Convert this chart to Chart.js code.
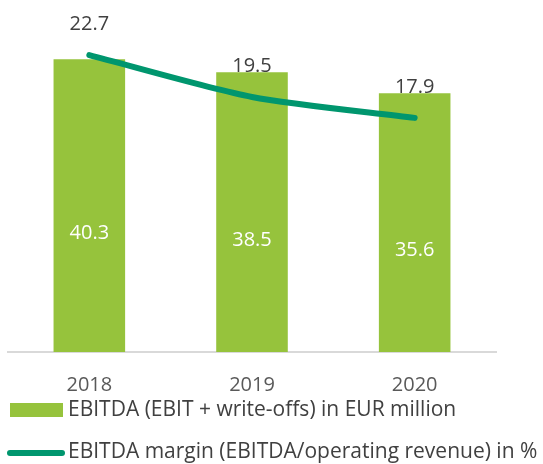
<!DOCTYPE html>
<html>
<head>
<meta charset="utf-8">
<script src="https://cdn.jsdelivr.net/npm/chart.js@4/dist/chart.umd.min.js"></script>
<style>
  html, body { margin: 0; padding: 0; background: #fff; }
  #wrap { width: 543px; height: 464px; }
</style>
</head>
<body>
<div id="wrap"><canvas id="ebitdaChart"></canvas></div>
<script>
var years = ['2018', '2019', '2020'];
var ebitda = [40.3, 38.5, 35.6];
var margin = [22.7, 19.5, 17.9];
var ebitdaLabel = 'EBITDA (EBIT + write-offs) in EUR million';
var marginLabel = 'EBITDA margin (EBITDA/operating revenue) in %';

var barColor = '#96C33C';
var lineColor = '#00966E';
var fontFamily = "'Open Sans', Lato, sans-serif";

// value labels: white in the middle of the bars, dark above the line points
var valueLabels = {
    id: 'valueLabels',
    afterDatasetsDraw: function (chart) {
        var ctx = chart.ctx;
        ctx.save();
        ctx.font = '20px ' + fontFamily;
        ctx.textAlign = 'center';
        ctx.textBaseline = 'middle';
        chart.getDatasetMeta(1).data.forEach(function (bar, i) {
            ctx.fillStyle = '#ffffff';
            ctx.fillText(ebitda[i].toFixed(1), bar.x, (bar.y + bar.base) / 2 + 28);
        });
        chart.getDatasetMeta(0).data.forEach(function (pt, i) {
            ctx.fillStyle = '#404040';
            ctx.fillText(margin[i].toFixed(1), pt.x, pt.y - 31);
        });
        ctx.restore();
    }
};

// legend: one item per row, left aligned, like the original
var rowLegend = {
    id: 'rowLegend',
    afterDraw: function (chart) {
        var ctx = chart.ctx;
        var h = chart.height;
        ctx.save();
        ctx.font = '21px ' + fontFamily;
        ctx.textBaseline = 'middle';
        ctx.textAlign = 'left';

        ctx.fillStyle = barColor;
        ctx.fillRect(10, h - 61, 53, 14);
        ctx.fillStyle = '#404040';
        ctx.fillText(ebitdaLabel, 68, h - 54);

        ctx.strokeStyle = lineColor;
        ctx.lineWidth = 6;
        ctx.lineCap = 'round';
        ctx.beginPath();
        ctx.moveTo(10, h - 11);
        ctx.lineTo(62, h - 11);
        ctx.stroke();
        ctx.fillText(marginLabel, 68, h - 12);
        ctx.restore();
    }
};

var ctx = document.getElementById('ebitdaChart').getContext('2d');
var chart = new Chart(ctx, {
    data: {
        labels: years,
        datasets: [{
            type: 'line',
            label: marginLabel,
            data: margin,
            yAxisID: 'y1',
            borderColor: lineColor,
            backgroundColor: lineColor,
            borderWidth: 6,
            borderCapStyle: 'round',
            borderJoinStyle: 'round',
            pointRadius: 0,
            tension: 0.25,
            order: 0
        }, {
            type: 'bar',
            label: ebitdaLabel,
            data: ebitda,
            yAxisID: 'y',
            backgroundColor: barColor,
            borderWidth: 0,
            categoryPercentage: 0.88,
            barPercentage: 0.5,
            order: 1
        }]
    },
    options: {
        responsive: true,
        maintainAspectRatio: false,
        animation: false,
        layout: {
            padding: { left: 8, right: 47, top: 25, bottom: 54 }
        },
        plugins: {
            legend: { display: false },
            tooltip: { enabled: false }
        },
        scales: {
            x: {
                grid: { display: false },
                border: { display: true, color: '#D9D9D9', width: 2 },
                ticks: {
                    color: '#595959',
                    padding: 13,
                    font: { family: fontFamily, size: 20 }
                }
            },
            y: { display: false, min: 0, max: 45 },
            y1: { display: false, min: 0, max: 25 }
        }
    },
    plugins: [valueLabels, rowLegend]
});
</script>
</body>
</html>
